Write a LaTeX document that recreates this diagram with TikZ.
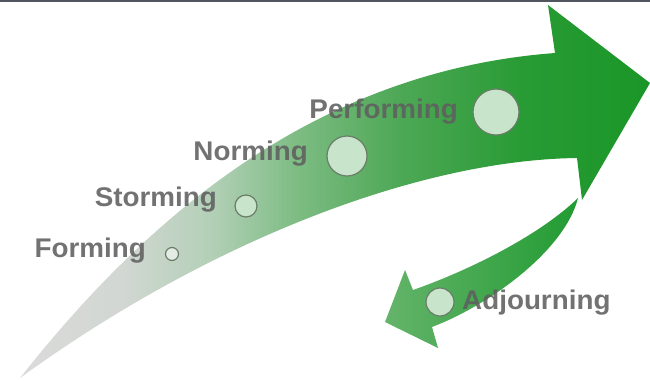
\documentclass[tikz,border=0pt]{standalone}
\usepackage{fontspec}
\newfontfamily\stagefont[FakeStretch=1.03]{Liberation Sans}
\usetikzlibrary{positioning}

\definecolor{tailgray}{RGB}{218,218,218}
\definecolor{shadeA}{RGB}{210,215,210}
\definecolor{shadeB}{RGB}{180,208,184}
\definecolor{shadeC}{RGB}{125,188,131}
\definecolor{shadeD}{RGB}{78,168,86}
\definecolor{shadeE}{RGB}{40,155,52}
\definecolor{headgreen}{RGB}{26,150,40}
\definecolor{backlight}{RGB}{100,180,106}
\definecolor{backdark}{RGB}{34,155,50}
\definecolor{dotfill}{RGB}{200,228,202}
\definecolor{formfill}{RGB}{228,234,228}
\definecolor{ringgray}{RGB}{105,125,105}
\definecolor{labelgray}{RGB}{95,95,95}
\definecolor{topline}{RGB}{80,85,95}

\pgfdeclarehorizontalshading{teamshade}{100bp}{%
  color(0bp)=(tailgray); color(25bp)=(tailgray); color(33bp)=(shadeA);
  color(40bp)=(shadeB); color(47bp)=(shadeC); color(55bp)=(shadeD);
  color(65bp)=(shadeE); color(75bp)=(headgreen); color(100bp)=(headgreen)}

\begin{document}
\begin{tikzpicture}[x=1bp,y=-1bp,
    stage/.style={circle, draw=ringgray, line width=1.2bp, fill=dotfill, inner sep=0pt},
    stagelabel/.style={font=\stagefont\bfseries\fontsize{27bp}{30bp}\selectfont,
      text=labelgray, text opacity=0.88, inner sep=0pt}]
    \useasboundingbox (0,0) rectangle (650,380);

    % Top rule
    \draw[line width=1.5bp, topline] (0,0.75) -- (650,0.75);

    % Main arrow
    \shade[shading=teamshade] (20,378) .. controls (160,200) and (330,70) .. (555,53)
      -- (548,5) -- (650,83) -- (582,200) -- (577,158)
      .. controls (420,160) and (210,240) .. cycle;

    % Return arrow
    \shade[left color=backlight, right color=backdark] (578,198)
      .. controls (565,250) and (490,305) .. (432,327)
      -- (438,348) -- (385,322) -- (405,270) -- (413,290)
      .. controls (470,270) and (540,235) .. cycle;

    % Stages
    \node[stage, minimum size=13bp, fill=formfill] (forming) at (172,254) {};
    \node[stage, minimum size=22bp] (storming) at (246,206) {};
    \node[stage, minimum size=40bp] (norming) at (347,156) {};
    \node[stage, minimum size=46bp] (performing) at (496,112) {};
    \node[stage, minimum size=28bp] (adjourning) at (440,302) {};

    % Labels
    \node[stagelabel, anchor=base east] (forminglabel) at (146,257) {Forming};
    \node[stagelabel, anchor=base east] (storminglabel) at (217,206) {Storming};
    \node[stagelabel, anchor=base east] (norminglabel) at (308,160) {Norming};
    \node[stagelabel, anchor=base east] (performinglabel) at (458,118) {Performing};
    \node[stagelabel, anchor=base west] (adjourninglabel) at (462,309) {Adjourning};
\end{tikzpicture}
\end{document}
